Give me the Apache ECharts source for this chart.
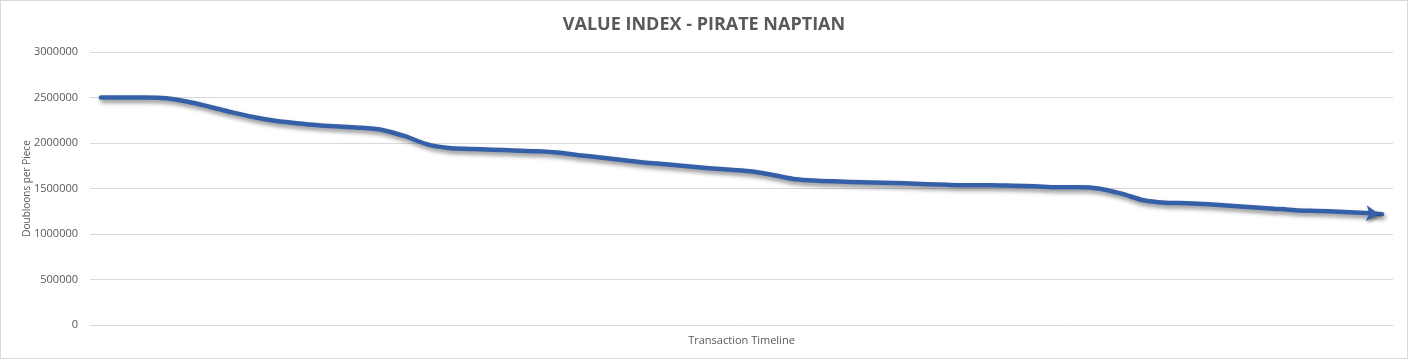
<!DOCTYPE html>
<html>
<head>
<meta charset="utf-8">
<script src="https://cdn.jsdelivr.net/npm/echarts@6/dist/echarts.min.js"></script>
<style>
html,body{margin:0;padding:0;background:#fff;}
#c{width:1406px;height:357px;border:1px solid #d9d9d9;}
</style>
</head>
<body>
<div id="c"></div>
<script>
const title = 'VALUE INDEX - PIRATE NAPTIAN';
const yAxisName = 'Doubloons per Piece';
const xAxisName = 'Transaction Timeline';
const yTicks = [0, 500000, 1000000, 1500000, 2000000, 2500000, 3000000];
const values = [
  2500000, 2500000, 2500000, 2492000, 2454000, 2399000, 2339000, 2286000, 2245000, 2218000,
  2196000, 2181000, 2167000, 2141000, 2075000, 1987000, 1945000, 1935000, 1926000, 1918000,
  1910000, 1896000, 1866000, 1841000, 1813000, 1786000, 1767000, 1745000, 1723000, 1706000,
  1687000, 1646000, 1602000, 1586000, 1577000, 1569000, 1564000, 1558000, 1547000, 1540000,
  1536000, 1536000, 1531000, 1525000, 1514000, 1514000, 1498000, 1443000, 1371000, 1344000,
  1338000, 1327000, 1311000, 1295000, 1278000, 1262000, 1253000, 1245000, 1234000, 1218000
];
const categories = values.map((v, i) => String(i + 1));

const chart = echarts.init(document.getElementById('c'), null, {renderer: 'canvas'});
const last = values.length - 1;
chart.setOption({
  animation: false,
  backgroundColor: '#fff',
  title: {
    text: title, left: 'center', top: 10,
    textStyle: {fontFamily: 'Open Sans', fontWeight: 'bold', fontSize: 18, color: '#595959'}
  },
  grid: {left: 89, right: 14, top: 51, bottom: 33},
  xAxis: {
    type: 'category', data: categories, boundaryGap: true,
    name: xAxisName, nameLocation: 'middle', nameGap: 10,
    nameTextStyle: {fontFamily: 'Open Sans', fontSize: 11, color: '#595959'},
    axisLine: {show: true, lineStyle: {color: '#d9d9d9', width: 1}},
    axisTick: {show: false}, axisLabel: {show: false}, splitLine: {show: false}
  },
  yAxis: {
    type: 'value', min: yTicks[0], max: yTicks[yTicks.length - 1], interval: yTicks[1] - yTicks[0],
    name: yAxisName, nameLocation: 'middle', nameGap: 58, nameRotate: 90, nameMoveOverlap: false,
    nameTextStyle: {fontFamily: 'Open Sans', fontSize: 10, color: '#595959'},
    axisLine: {show: false}, axisTick: {show: false},
    axisLabel: {fontFamily: 'Open Sans', fontSize: 11, color: '#595959', margin: 12,
      formatter: v => String(v)},
    splitLine: {lineStyle: {color: '#d9d9d9', width: 1}}
  },
  series: [{
    type: 'line', data: values, smooth: 0.3, symbol: 'none',
    lineStyle: {color: '#3560a8', width: 4.5, cap: 'round', join: 'round',
      shadowColor: 'rgba(0,0,0,0.45)', shadowBlur: 4, shadowOffsetX: 1.5, shadowOffsetY: 3},
    markPoint: {
      symbol: 'arrow', symbolSize: [12, 13], symbolRotate: -94, symbolOffset: [-3, 0],
      itemStyle: {color: '#3560a8', shadowColor: 'rgba(0,0,0,0.4)', shadowBlur: 3, shadowOffsetX: 1.5, shadowOffsetY: 2},
      label: {show: false},
      data: [{coord: [last, values[last]]}]
    }
  }]
});
</script>
</body>
</html>
